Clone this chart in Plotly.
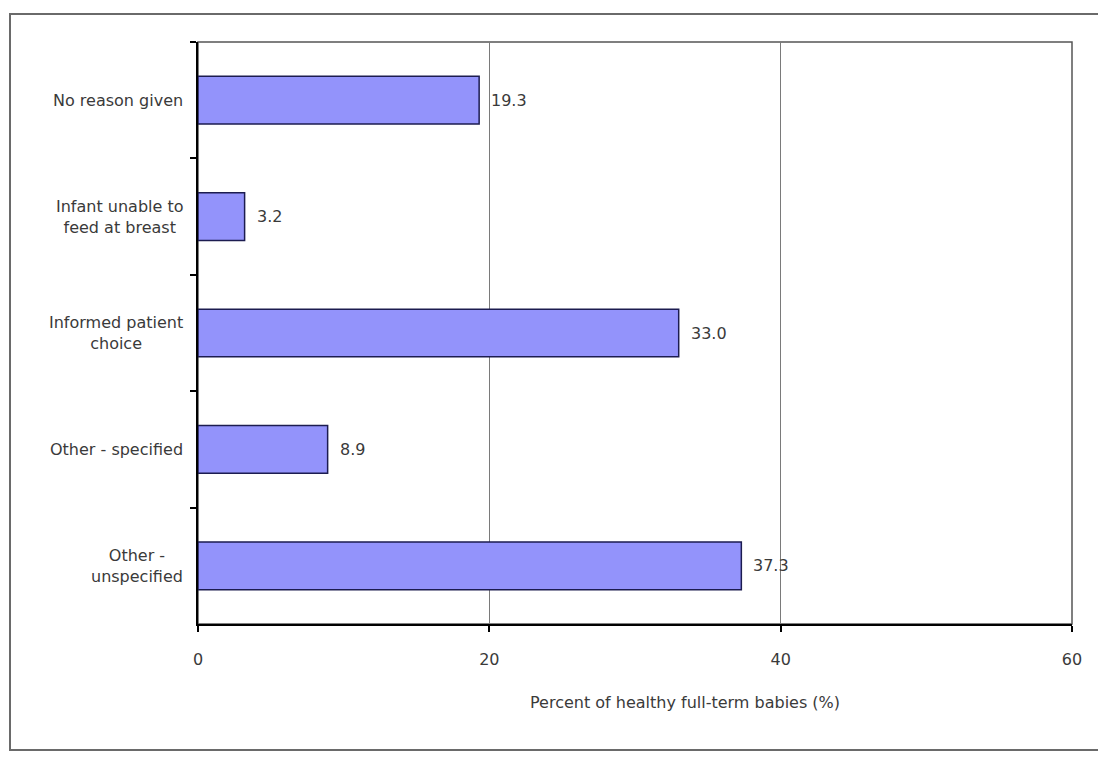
import plotly.graph_objects as go

categories = ["No reason given", "Infant unable to<br>feed at breast", "Informed patient<br>choice",
              "Other - specified", "Other -<br>unspecified"]
values = [19.3, 3.2, 33.0, 8.9, 37.3]
value_labels = ["19.3", "3.2", "33.0", "8.9", "37.3"]
x_ticks = [0, 20, 40, 60]
x_title = "Percent of healthy full-term babies (%)"

FONT = "DejaVu Sans, Verdana, sans-serif"
TXT = "#3a3a3a"
FS = 16

fig = go.Figure()
fig.add_trace(go.Bar(
    x=values, y=categories, orientation="h",
    marker=dict(color="#9393FB", line=dict(color="#1c1c50", width=1.5)),
    hoverinfo="skip",
))

# value labels
for v, c, t in zip(values, categories, value_labels):
    fig.add_annotation(x=v, y=c, text=t, showarrow=False, xanchor="left", xshift=10,
                       font=dict(family=FONT, size=FS, color=TXT))

# category labels (centered multi-line, right-anchored to axis)
for c in categories:
    fig.add_annotation(xref="paper", x=0, y=c, yref="y", text=c, showarrow=False,
                       xanchor="right", yanchor="middle", align="center", xshift=-13,
                       font=dict(family=FONT, size=FS, color=TXT))

# plot area border (top/right)
fig.add_shape(type="rect", xref="paper", yref="paper", x0=0, x1=1, y0=0, y1=1,
              line=dict(color="#555555", width=1.5), layer="below")
# outer frame
fig.add_shape(type="rect", xref="paper", yref="paper", x0=-0.2151, x1=1.0435, y0=-0.2165, y1=1.048,
              line=dict(color="#6a6a6a", width=2), layer="below")

fig.add_annotation(xref="paper", yref="paper", x=(685 - 198) / 874, y=(624 - 702) / 582,
                   text=x_title, showarrow=False, xanchor="center", yanchor="middle",
                   font=dict(family=FONT, size=FS, color=TXT))

fig.update_layout(
    width=1106, height=760,
    margin=dict(l=190, r=42, t=34, b=144),
    paper_bgcolor="white", plot_bgcolor="white",
    bargap=0.59, showlegend=False,
    font=dict(family=FONT, size=FS, color=TXT),
)
fig.update_xaxes(range=[0, 60], tickvals=x_ticks, ticktext=[str(t) for t in x_ticks],
                 showgrid=True, gridcolor="#7a7a7a", gridwidth=1, zeroline=False,
                 showline=True, linecolor="black", linewidth=2,
                 ticks="outside", ticklen=6, tickcolor="black", tickwidth=1.5,
                 tickfont=dict(family=FONT, size=FS, color=TXT), ticklabelstandoff=14)
fig.update_yaxes(autorange="reversed", tickson="boundaries", ticks="outside", ticklen=6,
                 tickcolor="black", tickwidth=1.5, showgrid=False, showticklabels=False,
                 showline=True, linecolor="black", linewidth=2)

fig.write_html("out.html")
